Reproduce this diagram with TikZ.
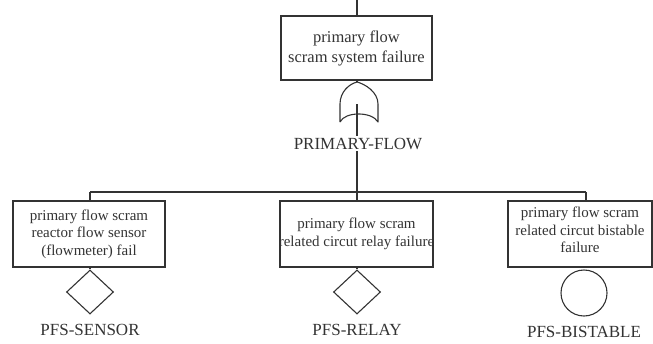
\documentclass[tikz,border=0pt]{standalone}
\usepackage{fontspec}
\setmainfont{Liberation Serif}
\usetikzlibrary{shapes.geometric}
\begin{document}
\begin{tikzpicture}[x=1pt,y=-1pt,
  ln/.style={draw=black!80,line width=1.1pt},
  evbox/.style={ln,rectangle,inner sep=0pt,minimum height=66pt},
  boxtxt/.style={align=center,font=\fontsize{15}{17.5}\selectfont,text=black!80},
  toptxt/.style={align=center,font=\fontsize{16.5}{20}\selectfont,text=black!80},
  gname/.style={font=\fontsize{17}{20}\selectfont,text=black!80,anchor=base,inner sep=2pt},
  basic/.style={ln,diamond,inner sep=0pt,minimum width=47pt,minimum height=44pt},
  undev/.style={ln,circle,inner sep=0pt,minimum size=46pt}]
\useasboundingbox (0,0) rectangle (653,343);

% top event
\coordinate (top) at (357,0);
\node[evbox,minimum width=151pt,minimum height=64pt,
  label={[toptxt]center:primary flow\\scram system failure}] (topbox) at (356.5,48) {};
\draw[ln] (top) -- (topbox.north -| top);

% OR gate
\coordinate (gtop) at (357,82);
\coordinate (gin) at (357,104);
\draw[ln] (topbox.south -| gtop) -- (gtop);
\draw[ln,line join=round] (340,122) -- (340,104)
  .. controls (340,92) and (349,84) .. (gtop)
  .. controls (365,84) and (378,92) .. (378,104) -- (378,122)
  .. controls (372,111.3) and (345,111.3) .. (340,122);

% gate name and bus
\node[gname] (gname) at (358,149) {PRIMARY-FLOW};
\coordinate (bL) at (90,192);
\coordinate (bM) at (357,192);
\coordinate (bR) at (586,192);
\draw[ln] (gin) -- (gin |- gname.north);
\draw[ln] (bM |- gname.south) -- (bM);
\draw[ln] (bL) -- (bR);

% child events
\node[evbox,minimum width=152pt,
  label={[boxtxt]center:primary flow scram\\reactor flow sensor\\(flowmeter) fail}] (lbox) at (89,234) {};
\node[evbox,minimum width=153pt,
  label={[boxtxt]center:primary flow scram\\related circut relay failure}] (mbox) at (356.5,234) {};
\node[evbox,minimum width=144pt,
  label={[boxtxt,yshift=4pt]center:primary flow scram\\related circut bistable\\failure}] (rbox) at (580,234) {};

\draw[ln] (bL) -- (bL |- lbox.north);
\draw[ln] (bM) -- (bM |- mbox.north);
\draw[ln] (bR) -- (bR |- rbox.north);

% basic / undeveloped events
\node[basic] (ldia) at (90,292) {};
\node[basic] (mdia) at (357,292) {};
\node[undev] (rcirc) at (584,293) {};
\draw[ln] (lbox.south -| ldia) -- (ldia.north);
\draw[ln] (mbox.south -| mdia) -- (mdia.north);

\node[gname] (lname) at (90,335) {PFS-SENSOR};
\node[gname] (mname) at (357,335) {PFS-RELAY};
\node[gname] (rname) at (584,337) {PFS-BISTABLE};
\end{tikzpicture}
\end{document}
